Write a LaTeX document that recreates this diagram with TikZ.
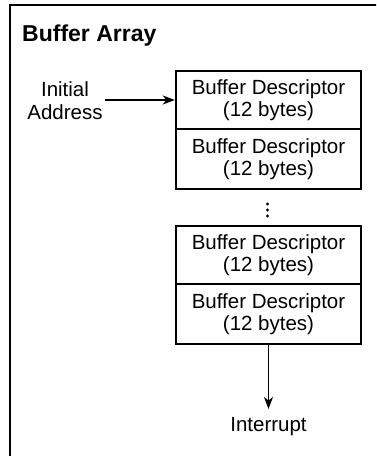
\documentclass[tikz,border=0pt]{standalone}
\usepackage{fontspec}
\setmainfont{Liberation Sans}
\usetikzlibrary{arrows.meta}
\tikzset{
  bdbox/.style={draw, line width=2.4pt, minimum width=185pt, inner sep=0pt, align=center,
    font=\fontsize{20.5}{21.5}\selectfont},
  lbl/.style={align=center, inner sep=2pt, font=\fontsize{20.5}{23}\selectfont},
  conn/.style={line width=1.5pt, -{Stealth[length=12pt,width=9pt,inset=3.5pt]}},
}
\begin{document}
\begin{tikzpicture}[x=1pt,y=-1pt]
\useasboundingbox (0,0) rectangle (376,456);
% outer frame (clipped on right and bottom)
\begin{scope}
\clip (0,0) rectangle (376,456);
\draw[line width=2pt] (10,470) -- (10,5) -- (390,5);
\end{scope}
\node[anchor=base west, inner sep=0pt, font=\fontsize{23}{26}\selectfont\bfseries] (title) at (22,41) {Buffer Array};
\node[bdbox, minimum height=58pt] (bd1) at (268.5,100) {Buffer Descriptor\\(12 bytes)};
\node[bdbox, minimum height=60pt] (bd2) at (268.5,159) {Buffer Descriptor\\(12 bytes)};
\node[bdbox, minimum height=58pt] (bd3) at (268.5,255) {Buffer Descriptor\\(12 bytes)};
\node[bdbox, minimum height=60pt] (bd4) at (268.5,314) {Buffer Descriptor\\(12 bytes)};
\foreach \yy in {204,210,216} \fill (267.5,\yy) circle (1.7pt);
\node[lbl] (init) at (65,101) {Initial\\Address};
\node[lbl] (intr) at (268.5,427) {Interrupt};
\coordinate (intrtop) at (268.5,409);
\draw[conn] (init.east |- bd1.west) -- (bd1.west);
\draw[conn] (bd4.south) -- (intrtop);
\end{tikzpicture}
\end{document}
